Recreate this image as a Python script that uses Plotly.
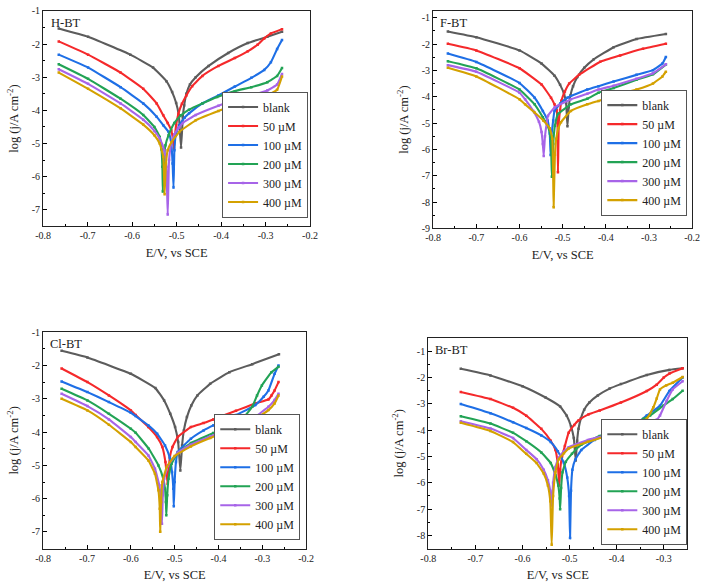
import plotly.graph_objects as go

SERIES = ["blank", "50 µM", "100 µM", "200 µM", "300 µM", "400 µM"]
COLORS = ["#5c5c5c", "#f5292b", "#1e6fe6", "#22a355", "#a764e8", "#d4a100"]
PANEL_NAMES = ["H-BT", "F-BT", "Cl-BT", "Br-BT"]
X_TICKS = [-0.8, -0.7, -0.6, -0.5, -0.4, -0.3, -0.2]
X_TICKTEXT = ["-0.8", "-0.7", "-0.6", "-0.5", "-0.4", "-0.3", "-0.2"]

# ---------------- H-BT ----------------
h_blank_E = [-0.765, -0.699, -0.604, -0.553, -0.523, -0.510, -0.501, -0.495, -0.490, -0.486, -0.483, -0.478, -0.470, -0.457, -0.428, -0.384, -0.340, -0.296, -0.263]
h_blank_J = [-1.53, -1.78, -2.32, -2.71, -3.12, -3.45, -3.78, -4.15, -5.12, -4.20, -3.85, -3.50, -3.22, -3.00, -2.66, -2.27, -1.97, -1.78, -1.63]
h_50_E = [-0.765, -0.699, -0.626, -0.575, -0.545, -0.530, -0.520, -0.512, -0.508, -0.506, -0.504, -0.501, -0.496, -0.488, -0.478, -0.465, -0.442, -0.406, -0.369, -0.340, -0.318, -0.303, -0.288, -0.263]
h_50_J = [-1.92, -2.32, -2.86, -3.35, -3.79, -4.15, -4.38, -4.60, -4.90, -5.15, -4.80, -4.45, -4.10, -3.80, -3.55, -3.27, -2.96, -2.66, -2.42, -2.22, -2.02, -1.83, -1.68, -1.55]
h_100_E = [-0.765, -0.699, -0.626, -0.575, -0.545, -0.530, -0.518, -0.512, -0.509, -0.507, -0.505, -0.502, -0.494, -0.482, -0.472, -0.442, -0.406, -0.369, -0.332, -0.303, -0.288, -0.274, -0.263]
h_100_J = [-2.32, -2.71, -3.30, -3.79, -4.19, -4.45, -4.65, -5.00, -5.60, -6.33, -5.20, -4.75, -4.45, -4.22, -4.09, -3.79, -3.55, -3.28, -3.02, -2.78, -2.55, -2.15, -1.88]
h_200_E = [-0.765, -0.699, -0.626, -0.575, -0.550, -0.538, -0.534, -0.532, -0.531, -0.529, -0.525, -0.518, -0.505, -0.490, -0.472, -0.442, -0.409, -0.369, -0.332, -0.296, -0.274, -0.263]
h_200_J = [-2.61, -3.05, -3.65, -4.14, -4.50, -4.80, -5.17, -5.70, -6.45, -5.60, -5.05, -4.75, -4.38, -4.15, -3.98, -3.79, -3.60, -3.42, -3.30, -3.15, -2.96, -2.72]
h_300_E = [-0.765, -0.699, -0.626, -0.575, -0.550, -0.538, -0.528, -0.523, -0.520, -0.517, -0.512, -0.505, -0.495, -0.486, -0.457, -0.406, -0.369, -0.332, -0.296, -0.274, -0.263]
h_300_J = [-2.76, -3.20, -3.79, -4.28, -4.62, -4.85, -5.20, -5.70, -7.14, -5.50, -5.00, -4.72, -4.52, -4.38, -4.14, -3.86, -3.69, -3.55, -3.40, -3.22, -2.90]
h_400_E = [-0.765, -0.699, -0.626, -0.575, -0.550, -0.538, -0.530, -0.527, -0.524, -0.520, -0.512, -0.494, -0.457, -0.406, -0.369, -0.332, -0.296, -0.274, -0.263]
h_400_J = [-2.86, -3.35, -3.94, -4.43, -4.75, -5.00, -5.40, -6.53, -5.60, -5.20, -4.97, -4.65, -4.30, -4.02, -3.84, -3.69, -3.55, -3.38, -2.98]

# ---------------- F-BT ----------------
f_blank_E = [-0.766, -0.700, -0.600, -0.549, -0.519, -0.506, -0.497, -0.492, -0.489, -0.486, -0.482, -0.476, -0.466, -0.450, -0.428, -0.382, -0.329, -0.261]
f_blank_J = [-1.52, -1.74, -2.24, -2.74, -3.20, -3.55, -3.88, -4.25, -5.12, -4.40, -3.95, -3.60, -3.25, -2.90, -2.58, -2.12, -1.81, -1.62]
f_50_E = [-0.766, -0.700, -0.600, -0.549, -0.527, -0.519, -0.514, -0.512, -0.511, -0.509, -0.506, -0.503, -0.495, -0.485, -0.462, -0.413, -0.367, -0.314, -0.261]
f_50_J = [-1.99, -2.24, -2.92, -3.54, -4.04, -4.29, -4.50, -5.00, -6.87, -5.00, -4.50, -4.15, -3.80, -3.50, -3.17, -2.67, -2.43, -2.18, -1.99]
f_100_E = [-0.766, -0.700, -0.600, -0.565, -0.546, -0.535, -0.530, -0.528, -0.526, -0.522, -0.519, -0.505, -0.489, -0.443, -0.417, -0.382, -0.329, -0.291, -0.269, -0.261]
f_100_J = [-2.36, -2.68, -3.48, -4.04, -4.54, -4.90, -5.40, -6.21, -5.50, -4.90, -4.54, -4.25, -4.04, -3.73, -3.60, -3.42, -3.17, -2.99, -2.74, -2.49]
f_200_E = [-0.766, -0.700, -0.600, -0.565, -0.546, -0.535, -0.528, -0.525, -0.522, -0.518, -0.511, -0.481, -0.443, -0.417, -0.382, -0.329, -0.291, -0.261]
f_200_J = [-2.65, -2.92, -3.73, -4.29, -4.78, -5.10, -5.50, -7.04, -5.80, -5.10, -4.66, -4.29, -4.08, -3.85, -3.67, -3.36, -3.15, -2.78]
f_300_E = [-0.766, -0.700, -0.600, -0.587, -0.568, -0.555, -0.549, -0.546, -0.544, -0.541, -0.537, -0.534, -0.519, -0.481, -0.443, -0.417, -0.382, -0.329, -0.291, -0.261]
f_300_J = [-2.80, -3.05, -3.85, -4.10, -4.54, -4.95, -5.34, -5.80, -6.25, -5.50, -5.00, -4.72, -4.41, -4.10, -3.89, -3.73, -3.58, -3.32, -3.11, -2.77]
f_400_E = [-0.766, -0.700, -0.600, -0.587, -0.565, -0.545, -0.530, -0.524, -0.521, -0.518, -0.515, -0.510, -0.504, -0.481, -0.443, -0.417, -0.382, -0.329, -0.291, -0.269, -0.261]
f_400_J = [-2.90, -3.23, -4.10, -4.29, -4.60, -4.90, -5.20, -5.60, -8.20, -6.20, -5.60, -5.20, -4.97, -4.54, -4.29, -4.16, -3.98, -3.73, -3.50, -3.23, -3.05]

# ---------------- Cl-BT ----------------
c_blank_E = [-0.758, -0.699, -0.600, -0.544, -0.524, -0.510, -0.499, -0.492, -0.487, -0.483, -0.479, -0.472, -0.462, -0.448, -0.419, -0.375, -0.323, -0.262]
c_blank_J = [-1.56, -1.76, -2.25, -2.68, -3.05, -3.45, -3.85, -4.30, -5.15, -4.40, -3.95, -3.55, -3.20, -2.90, -2.55, -2.20, -1.96, -1.66]
c_50_E = [-0.758, -0.699, -0.650, -0.600, -0.589, -0.560, -0.540, -0.528, -0.521, -0.518, -0.516, -0.514, -0.511, -0.505, -0.493, -0.463, -0.434, -0.412, -0.360, -0.316, -0.286, -0.279, -0.272, -0.263]
c_50_J = [-2.09, -2.50, -2.90, -3.35, -3.49, -3.85, -4.15, -4.45, -4.90, -5.30, -5.55, -5.20, -4.75, -4.45, -4.15, -3.85, -3.73, -3.62, -3.36, -3.14, -3.02, -2.90, -2.75, -2.50]
c_100_E = [-0.758, -0.699, -0.650, -0.600, -0.589, -0.560, -0.540, -0.522, -0.511, -0.506, -0.503, -0.502, -0.500, -0.497, -0.493, -0.463, -0.434, -0.412, -0.360, -0.316, -0.297, -0.286, -0.272, -0.263]
c_100_J = [-2.48, -2.80, -3.10, -3.42, -3.52, -3.80, -4.05, -4.40, -4.77, -5.20, -5.70, -6.23, -5.50, -4.90, -4.60, -4.20, -3.95, -3.80, -3.49, -3.19, -2.94, -2.75, -2.25, -2.00]
c_200_E = [-0.758, -0.699, -0.650, -0.600, -0.589, -0.559, -0.537, -0.526, -0.522, -0.520, -0.519, -0.517, -0.514, -0.507, -0.493, -0.463, -0.412, -0.367, -0.362, -0.345, -0.323, -0.312, -0.301, -0.279, -0.263]
c_200_J = [-2.70, -3.05, -3.45, -3.90, -4.02, -4.50, -5.00, -5.40, -5.70, -6.10, -6.50, -5.90, -5.40, -4.95, -4.62, -4.33, -4.03, -3.78, -3.68, -3.59, -3.24, -2.90, -2.60, -2.20, -2.04]
c_300_E = [-0.758, -0.699, -0.650, -0.600, -0.589, -0.560, -0.545, -0.535, -0.531, -0.529, -0.527, -0.524, -0.515, -0.493, -0.463, -0.419, -0.360, -0.316, -0.286, -0.272, -0.263]
c_300_J = [-2.85, -3.22, -3.62, -4.15, -4.30, -4.70, -5.10, -5.60, -6.10, -6.75, -5.90, -5.40, -5.00, -4.62, -4.38, -4.13, -3.83, -3.54, -3.24, -3.04, -2.85]
c_400_E = [-0.758, -0.699, -0.650, -0.600, -0.589, -0.560, -0.545, -0.537, -0.534, -0.533, -0.531, -0.528, -0.518, -0.500, -0.463, -0.419, -0.360, -0.316, -0.286, -0.272, -0.263]
c_400_J = [-3.00, -3.35, -3.78, -4.30, -4.45, -4.85, -5.25, -5.75, -6.30, -6.99, -6.10, -5.50, -5.05, -4.72, -4.43, -4.18, -3.88, -3.59, -3.34, -3.14, -2.90]

# ---------------- Br-BT ----------------
b_blank_E = [-0.731, -0.668, -0.600, -0.551, -0.520, -0.506, -0.497, -0.491, -0.487, -0.484, -0.481, -0.476, -0.469, -0.458, -0.440, -0.415, -0.391, -0.336, -0.288, -0.260]
b_blank_J = [-1.67, -1.92, -2.33, -2.76, -3.10, -3.45, -3.85, -4.30, -5.15, -4.40, -3.95, -3.55, -3.22, -2.95, -2.68, -2.42, -2.25, -1.90, -1.71, -1.65]
b_50_E = [-0.731, -0.668, -0.620, -0.592, -0.560, -0.540, -0.530, -0.525, -0.522, -0.520, -0.516, -0.510, -0.502, -0.490, -0.481, -0.460, -0.436, -0.391, -0.336, -0.315, -0.300, -0.288, -0.260]
b_50_J = [-2.55, -2.82, -3.15, -3.45, -3.95, -4.40, -4.75, -5.30, -6.10, -5.50, -5.00, -4.60, -4.10, -3.80, -3.63, -3.40, -3.25, -2.95, -2.51, -2.27, -2.00, -1.85, -1.65]
b_100_E = [-0.731, -0.668, -0.620, -0.592, -0.560, -0.540, -0.525, -0.512, -0.505, -0.501, -0.499, -0.497, -0.494, -0.488, -0.475, -0.447, -0.405, -0.357, -0.336, -0.308, -0.288, -0.260]
b_100_J = [-3.01, -3.36, -3.70, -3.92, -4.20, -4.45, -4.80, -5.25, -5.80, -6.50, -8.10, -6.30, -5.50, -5.12, -4.75, -4.37, -4.06, -3.75, -3.44, -3.07, -2.51, -2.00]
b_200_E = [-0.731, -0.668, -0.620, -0.592, -0.560, -0.540, -0.530, -0.524, -0.521, -0.520, -0.518, -0.515, -0.508, -0.495, -0.475, -0.436, -0.391, -0.343, -0.329, -0.301, -0.281, -0.260]
b_200_J = [-3.47, -3.75, -4.10, -4.42, -4.85, -5.25, -5.70, -6.10, -6.60, -7.00, -6.20, -5.60, -5.20, -4.90, -4.55, -4.22, -3.94, -3.57, -3.44, -3.07, -2.82, -2.50]
b_300_E = [-0.731, -0.668, -0.620, -0.592, -0.570, -0.555, -0.546, -0.541, -0.538, -0.535, -0.530, -0.523, -0.512, -0.502, -0.461, -0.405, -0.350, -0.336, -0.315, -0.308, -0.294, -0.281, -0.260]
b_300_J = [-3.66, -3.94, -4.30, -4.75, -5.10, -5.50, -5.90, -6.30, -6.86, -6.00, -5.40, -5.05, -4.80, -4.65, -4.37, -4.13, -3.85, -3.75, -3.60, -3.44, -2.89, -2.45, -2.14]
b_400_E = [-0.731, -0.668, -0.620, -0.592, -0.570, -0.555, -0.546, -0.541, -0.538, -0.535, -0.530, -0.523, -0.512, -0.502, -0.461, -0.405, -0.350, -0.336, -0.322, -0.315, -0.308, -0.295, -0.281, -0.260]
b_400_J = [-3.72, -4.03, -4.45, -4.90, -5.25, -5.65, -6.10, -6.70, -8.35, -6.50, -5.60, -5.10, -4.88, -4.70, -4.44, -4.13, -3.76, -3.57, -3.13, -2.80, -2.45, -2.30, -2.20, -1.98]

PANEL_DATA = [
    [(h_blank_E, h_blank_J), (h_50_E, h_50_J), (h_100_E, h_100_J), (h_200_E, h_200_J), (h_300_E, h_300_J), (h_400_E, h_400_J)],
    [(f_blank_E, f_blank_J), (f_50_E, f_50_J), (f_100_E, f_100_J), (f_200_E, f_200_J), (f_300_E, f_300_J), (f_400_E, f_400_J)],
    [(c_blank_E, c_blank_J), (c_50_E, c_50_J), (c_100_E, c_100_J), (c_200_E, c_200_J), (c_300_E, c_300_J), (c_400_E, c_400_J)],
    [(b_blank_E, b_blank_J), (b_50_E, b_50_J), (b_100_E, b_100_J), (b_200_E, b_200_J), (b_300_E, b_300_J), (b_400_E, b_400_J)],
]

W, H = 709, 585
# panel frames in pixels: (left, right, top, bottom)
FRAMES = [(36, 309, 5, 225), (435, 700, 5, 227), (36, 305, 333, 554), (430, 695, 339, 554)]
XRANGES = [[-0.8, -0.2], [-0.8, -0.2], [-0.8, -0.2], [-0.8, -0.25]]
YRANGES = [[-7.5, -1], [-9, -0.74], [-7.5, -1], [-8.5, -0.5]]
YTICKS = [list(range(-7, 0)), list(range(-9, 0)), list(range(-7, 0)), list(range(-8, 0))]
# legend anchor (right, bottom) in pixels
LEGPOS = [(307, 216), (695, 214), (299, 545), (695, 550)]

FONT = "Liberation Serif, Times New Roman, serif"

fig = go.Figure()
layout = dict(
    width=W, height=H, margin=dict(l=0, r=0, t=0, b=0),
    paper_bgcolor="white", plot_bgcolor="white",
    font=dict(family=FONT, color="black"),
    showlegend=True,
)

annotations = []
for p in range(4):
    ax = "" if p == 0 else str(p + 1)
    xa, ya = "xaxis" + ax, "yaxis" + ax
    leg = "legend" + ax
    l, r, t, b = FRAMES[p]
    layout[xa] = dict(
        domain=[l / W, r / W], range=XRANGES[p], anchor="y" + ax,
        tickvals=X_TICKS, ticktext=X_TICKTEXT,
        ticks="inside", ticklen=4, tickwidth=1, tickcolor="black",
        minor=dict(dtick=0.05, ticks="inside", ticklen=2, tickcolor="black"),
        showline=True, mirror=True, linecolor="#222222", linewidth=1.2,
        showgrid=False, zeroline=False,
        tickfont=dict(family=FONT, size=10, color="#222"),
        title=dict(text="E/V, vs SCE", font=dict(family=FONT, size=12.5, color="#222"), standoff=7),
    )
    layout[ya] = dict(
        domain=[1 - b / H, 1 - t / H], range=YRANGES[p], anchor="x" + ax,
        tickvals=YTICKS[p], ticktext=[str(v) for v in YTICKS[p]],
        ticks="inside", ticklen=4, tickwidth=1, tickcolor="black",
        minor=dict(dtick=0.5, ticks="inside", ticklen=2, tickcolor="black"),
        showline=True, mirror=True, linecolor="#222222", linewidth=1.2,
        showgrid=False, zeroline=False,
        tickfont=dict(family=FONT, size=10, color="#222"),
        title=dict(text="log (j/A cm<sup>-2</sup>)", font=dict(family=FONT, size=12.5, color="#222"), standoff=10),
    )
    lx, lb = LEGPOS[p]
    layout[leg] = dict(
        x=lx / W, y=1 - lb / H, xanchor="right", yanchor="bottom",
        xref="paper", yref="paper",
        bgcolor="white", bordercolor="#555555", borderwidth=1,
        font=dict(family=FONT, size=12, color="#222"),
        itemwidth=30, tracegroupgap=0,
    )
    annotations.append(dict(
        text=PANEL_NAMES[p], xref="x" + ax + " domain", yref="y" + ax + " domain",
        x=0.02, y=0.985, xanchor="left", yanchor="top", showarrow=False,
        font=dict(family=FONT, size=12.5, color="#222"),
    ))
    for s in range(6):
        E, J = PANEL_DATA[p][s]
        fig.add_trace(go.Scatter(
            x=E, y=J, mode="lines+markers", name=SERIES[s],
            line=dict(color=COLORS[s], width=2.1, shape="spline", smoothing=0.35),
            marker=dict(color=COLORS[s], size=2.5, symbol="square"),
            xaxis="x" + ax, yaxis="y" + ax, legend=leg,
        ))

layout["annotations"] = annotations
fig.update_layout(**layout)
fig.write_html("out.html")
